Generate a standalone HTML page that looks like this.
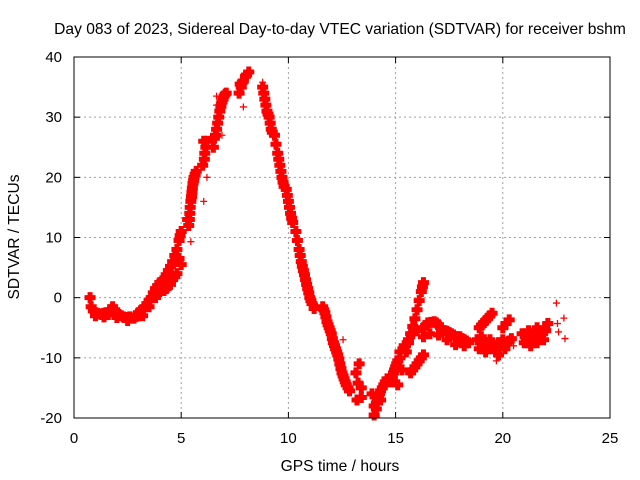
<!DOCTYPE html>
<html><head><meta charset="utf-8"><style>
html,body{margin:0;padding:0;background:#fff;}
svg{display:block;font-family:"Liberation Sans",sans-serif;}
</style></head><body>
<svg id="chart" width="640" height="480" viewBox="0 0 640 480">
<rect width="640" height="480" fill="#fff"/>
<text x="340" y="34" font-size="15.6" text-anchor="middle">Day 083 of 2023, Sidereal Day-to-day VTEC variation (SDTVAR) for receiver bshm</text>
<text transform="translate(19,237) rotate(-90)" font-size="15.6" text-anchor="middle">SDTVAR / TECUs</text>
<text x="340" y="471" font-size="15.6" text-anchor="middle">GPS time / hours</text>
<g id="grid"></g><g id="ticks"></g><g id="marks"></g>
<rect x="74" y="57" width="536" height="361" fill="none" stroke="#000" stroke-width="1"/>
</svg>
<script>
const xTicks=[0,5,10,15,20,25];
const yTicks=[-20,-10,0,10,20,30,40];
const denseH=[
[0.75,0.8,0.9,1.0,1.1,1.3,1.5,1.6,1.8,1.9,2.0,2.2,2.4,2.5,2.6,2.8,3.0,1.2,1.4,1.7,2.1,2.3,2.7,2.9],
[1.0,1.4,2.0],
[3.0,3.2,3.4,3.6,3.8,4.0,4.2,4.4,4.6,4.8,4.9,5.0,3.1,3.3,3.5,3.7,3.9,4.1,4.3,4.5,4.7,4.95],
[3.2,3.5,3.8,4.0,4.3,4.6,4.8,5.0,4.9,4.2,4.5,4.7],
[5.3,5.35,5.4,5.45,5.5,5.55,5.6,5.7,5.38,5.42,5.48,5.52,5.58,5.65],
[6.0,6.05,6.1,6.2,6.15,6.08],
[6.5,6.6,6.7,6.8,6.9,7.0,7.1,6.55,6.75,6.95,6.65,6.85,7.05],
[7.7,7.8,7.9,8.0,8.15,7.75,8.05,7.85],
[8.8,8.9,9.0,9.1,9.2,9.35,9.5,9.6,9.7,9.8,9.9,10.0,10.1,10.2,10.35,10.5,10.6,10.7,10.8,10.9,11.0,11.1,11.2,8.85,8.95,9.05,9.15,9.25,9.42,9.55,9.65,9.75,9.95,10.05,10.15,10.42,10.55,10.65,10.75,10.85,10.95,11.05],
[11.6,11.7,11.8,11.9,12.0,12.1,12.2,12.3,12.4,12.5,12.6,12.7,12.85,11.65,11.75,11.85,11.95,12.05,12.15,12.25,12.35,12.45,12.55,12.65,12.78],
[13.15,13.3,13.25,13.4,13.2,13.4],
[13.9,14.0,14.1,14.2,14.3,14.45,14.6,14.1,14.3,14.0,14.15,14.25,14.38,14.52],
[14.8,14.9,15.0,15.1,14.85,14.95,15.05],
[15.1,15.3,15.5,15.7,15.9,16.1,16.3,15.2,15.4,15.6,15.8,16.0,16.2,16.25],
[15.7,15.9,16.1,16.3,15.8,16.0,16.2],
[15.2,15.4,15.6,15.8,16.0],
[16.3,16.5,16.8,17.0,17.2,17.4,17.6,17.8,18.0,18.2,18.4,16.3,16.6,17.0,17.4,17.8,18.2,16.4,16.65,16.9,17.1,17.3,17.5,17.7,17.9,18.1,18.3],
[18.8,19.0,19.2,19.4,19.6,19.8,20.0,20.2,20.4,18.9,19.2,19.5,19.8,20.1,18.95,19.1,19.3,19.5,19.7,19.9,20.3],
[18.9,19.1,19.3,19.5,20.0,20.15,20.3,19.0,19.2,19.4],
[20.9,21.2,21.4,21.6,21.8,22.0,22.1,21.0,21.3,21.6,21.9,21.1,21.5,21.7,21.95]
];
const denseV=[
[0,-1.5,-2.2,-2.5,-2.6,-2.8,-2.5,-2.8,-1.5,-2,-2.6,-3,-3.3,-3.8,-3.2,-3.4,-3,-2.7,-2.6,-2,-2.8,-3.2,-3.4,-3.1],
[-3,-3.2,-3.3],
[-2.5,-2,-1,0,1.5,2.5,3,4.5,6,8,9.5,11,-2.2,-1.5,-0.5,0.8,2,2.8,3.8,5.2,7,10.3],
[-3,-1.5,0,1,1.5,3,4,5.5,6.5,1.2,2.2,3.5],
[13,12,14,16,17.5,19,20,21,13,15,16.8,18.2,19.5,20.5],
[22,26,24,26,25,23],
[25,27,29,31,32.5,33.5,34,26.5,30,33,28,31.8,33.8],
[34,35,36,36.8,37.5,35.5,37,35.8],
[35,33,31,30,28,27,24,22,20,18.5,18,16,14,12.5,11,8,6,4.5,3,1.5,0,-1,-1.8,34,32,30.5,29,27.5,25.5,23,21,19.2,17,15,13.2,9.5,7,5.2,3.8,2.2,0.8,-0.5],
[-1.5,-2.5,-4,-5,-6,-7.5,-8.5,-9.5,-11,-12.5,-13.5,-14.5,-15.5,-2,-3.2,-4.5,-5.5,-6.8,-8,-9,-10.2,-11.8,-13,-14,-15],
[-12.5,-11,-14.2,-15,-17,-16.6],
[-16,-19.5,-17.5,-16.5,-15.5,-14.5,-13.5,-18.5,-17,-18,-17,-16,-15,-14],
[-14,-12.5,-11.5,-10.5,-13.2,-12,-11],
[-14.5,-12,-9,-6,-3.5,-0.5,2.5,-10,-8.5,-7.5,-4.8,-2,1,1.8],
[-12.5,-11.5,-10.5,-9.5,-12,-11,-10],
[-9,-8,-7,-6,-5.5],
[-5,-4.2,-4,-4.5,-5.5,-5.6,-6,-6.5,-6.5,-7,-7.5,-6.5,-6,-6.2,-7,-7.8,-8,-4.6,-4.1,-4.2,-5,-5.5,-5.8,-6.2,-6.5,-6.8,-7.2],
[-7,-6.5,-7.5,-7,-8,-7.5,-7,-7.5,-6.8,-8.5,-9,-8.5,-9.5,-8.5,-7.5,-8,-8,-7.8,-8.8,-8,-7.2],
[-5,-4.2,-3.4,-2.6,-5,-4.3,-3.7,-4.6,-3.8,-3],
[-6,-5.5,-6.5,-5,-6,-5.5,-4.3,-7.5,-8,-7.5,-7,-6.8,-6,-6.5,-5]
];
const sparseH=[5.45,6.05,6.2,6.9,6.65,6.65,7.9,8.8,12.55,19.7,20.5,22.5,22.85,22.55,22.6,22.9,11.35];
const sparseV=[9.3,16,20,27,32,33.5,31.7,35.8,-7,-10.5,-8,-0.9,-3.4,-4.3,-5.7,-6.8,-1.4];

const X0=74,X1=610,Y0=418,Y1=57;
function sx(h){return X0+(h-0)/(25-0)*(X1-X0);}
function sy(v){return Y0-(v-(-20))/(40-(-20))*(Y0-Y1);}
const NS="http://www.w3.org/2000/svg";
function mk(tag,attrs,parent){const e=document.createElementNS(NS,tag);for(const k in attrs)e.setAttribute(k,attrs[k]);parent.appendChild(e);return e;}
const grid=document.getElementById('grid'),ticks=document.getElementById('ticks'),marks=document.getElementById('marks');
xTicks.forEach(t=>{
  const x=sx(t);
  if(t>0&&t<25){const g=mk('line',{x1:x,x2:x,y1:Y1,y2:Y0,stroke:'#a0a0a0','stroke-dasharray':'2,3'},grid);
  
  }
  mk('line',{x1:x,x2:x,y1:Y0,y2:Y0-6,stroke:'#000'},ticks);
  mk('line',{x1:x,x2:x,y1:Y1,y2:Y1+6,stroke:'#000'},ticks);
  const l=mk('text',{x:x,y:Y0+25,'font-size':15,'text-anchor':'middle'},ticks);l.textContent=t;
  
  
});
yTicks.forEach(t=>{
  const y=sy(t);
  if(t>-20&&t<40){const g=mk('line',{x1:X0,x2:X1,y1:y,y2:y,stroke:'#a0a0a0','stroke-dasharray':'2,3'},grid);
  
  }
  mk('line',{x1:X0,x2:X0+6,y1:y,y2:y,stroke:'#000'},ticks);
  mk('line',{x1:X1,x2:X1-6,y1:y,y2:y,stroke:'#000'},ticks);
  const l=mk('text',{x:X0-12,y:y+5,'font-size':15,'text-anchor':'end'},ticks);l.textContent=t;
  
  
});
function plus(h,v,a,w){
  const x=sx(h),y=sy(v);
  return mk('path',{d:`M${x-a},${y}H${x+a}M${x},${y-a}V${y+a}`,stroke:'#ff0000','stroke-width':w,fill:'none'},marks);
}
denseH.forEach((hs,i)=>{hs.forEach((h,j)=>{
  const p=plus(h,denseV[i][j],5.5,5);
  
  
});});
sparseH.forEach((h,j)=>{
  const p=plus(h,sparseV[j],3.5,1.3);
  
  
});
</script>
</body></html>
